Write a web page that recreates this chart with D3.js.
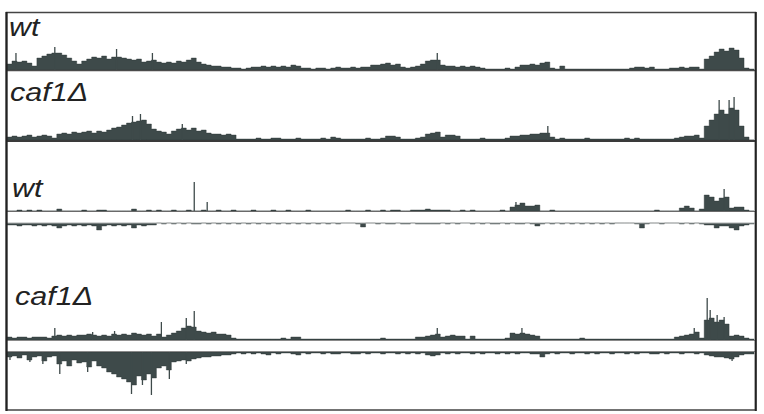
<!DOCTYPE html>
<html><head><meta charset="utf-8">
<script src="https://cdn.jsdelivr.net/npm/d3@7"></script>
<style>body{margin:0;background:#fff}svg{display:block}</style>
</head><body><svg id="c" width="764" height="414"></svg>
<script>
// genomic coordinate (kb), bins of 10 kb over 0..1500
const binSize = 10;
const regionEnd = 1500;
const labels = ["wt", "caf1\u0394", "wt", "caf1\u0394"];

const wtTop = [6,9,8,9,7,4,12,14,16,17, 17,15,12,9,6,9,11,13,12,14, 11,13,13,12,11,10,11,8,9,10,
  8,7,8,7,9,8,10,12,8,6, 5,4,4,3,3,2,2,1,2,3, 3,4,3,4,3,4,3,5,4,2, 2,1,2,2,1,2,3,2,2,3,
  2,3,3,5,5,6,7,5,6,3, 2,3,4,6,9,10,10,5,4,4, 3,4,3,4,3,2,1,1,1,1, 2,1,3,5,5,6,5,7,8,2,
  1,4,1,1,1,1,1,1,1,1, 1,1,1,1,1,2,3,3,2,3, 1,1,1,2,2,3,2,3,3,1, 11,14,18,21,19,22,20,12,2,1];
const wtTopSpikes = [[18,17],[96,23],[220,21],[292,17],[864,17]];

const caf1Top = [3,4,3,4,5,3,4,5,4,2, 6,7,6,8,7,8,9,7,9,8, 10,12,13,15,17,18,19,20,16,11,
  9,8,6,9,11,12,10,12,9,10, 7,6,6,5,6,5,1,1,1,1, 2,1,1,2,2,1,1,1,2,1, 1,1,1,2,1,3,2,1,1,1,
  1,1,2,1,1,2,4,4,3,1, 1,1,2,3,6,7,8,3,5,5, 4,1,1,1,1,2,1,1,1,1, 2,4,4,5,5,6,6,7,7,3,
  1,2,1,1,1,1,2,1,1,1, 1,1,1,1,2,1,2,1,1,1, 1,1,1,1,2,3,4,4,5,2, 14,20,26,30,26,32,30,14,3,0];
const caf1TopSpikes = [[252,24],[268,26],[352,16],[1086,14],[1430,40],[1450,40],[1460,43]];

const wtFwd = [0,0,1,0,1,0,1,0,0,0, 2,0,0,0,0,1,0,0,1,1, 0,0,0,0,0,2,0,0,1,0,
  1,0,0,1,0,0,1,0,0,1, 0,0,1,0,0,1,0,0,0,1, 0,0,0,1,0,0,1,0,0,0, 1,0,0,0,0,0,0,0,1,0,
  0,0,1,0,0,1,0,1,1,0, 0,1,1,1,2,1,1,1,1,0, 0,1,0,1,0,0,0,0,0,1, 0,4,6,8,5,5,6,0,0,1,
  0,0,0,0,0,0,0,0,0,0, 0,0,0,0,0,0,0,0,0,0, 1,0,0,0,0,3,5,3,0,2, 16,14,10,13,14,3,4,4,1,0];
const wtFwdSpikes = [[376,29],[402,9],[1022,9],[1440,22]];

const wtRev = [2,2,3,2,2,3,2,3,2,3, 5,3,2,3,2,3,2,3,7,3, 2,3,2,3,2,5,2,3,2,2,
  0,1,0,1,0,1,0,1,1,0, 1,0,1,0,1,0,1,0,1,0, 1,0,1,0,1,0,1,0,1,0, 1,0,1,0,1,0,1,0,0,0,
  1,4,0,0,1,0,1,1,0,1, 1,0,1,1,1,1,1,0,1,0, 1,0,0,1,0,1,0,1,1,0, 1,0,1,1,0,1,3,1,0,1,
  0,1,0,1,0,1,0,1,0,1, 0,1,0,0,0,0,1,5,1,0, 0,1,0,0,0,1,0,1,0,1, 2,2,5,3,3,5,7,3,2,1];
const wtRevSpikes = [[106,5],[186,7],[252,5],[712,4]];

const caf1Fwd = [3,2,3,3,2,3,3,3,2,4, 5,4,5,4,5,5,6,5,4,5, 4,6,5,6,5,7,6,5,6,4,
  6,3,5,7,9,12,14,13,9,8, 7,8,6,6,5,2,1,1,1,1, 1,1,1,1,1,2,1,3,3,1, 1,1,1,1,1,1,1,1,1,1,
  1,1,1,1,1,2,1,1,1,1, 1,1,3,3,4,5,6,3,4,5, 4,4,1,4,1,1,1,1,1,1, 2,7,6,7,6,5,4,1,1,1,
  1,1,1,1,1,2,1,1,1,1, 1,1,1,1,1,1,1,1,1,1, 1,1,1,1,3,4,5,6,8,2, 20,22,18,20,16,4,5,4,2,1];
const caf1FwdSpikes = [[96,12],[172,8],[216,9],[310,18],[360,22],[376,29],[864,12],[1034,12],
  [1380,12],[1406,42],[1412,30],[1426,25],[1440,23]];

const caf1Rev = [5,4,6,3,8,5,4,9,5,4, 12,9,14,8,11,10,15,9,14,16, 20,22,25,27,30,33,24,28,22,26,
  16,14,18,10,9,8,9,7,6,5, 5,4,4,3,3,2,1,2,1,2, 1,2,3,1,2,1,1,2,3,1, 2,1,1,2,1,2,2,1,1,2,
  2,1,2,1,1,2,1,1,2,1, 2,1,2,1,3,4,3,1,2,1, 2,1,1,2,1,2,1,1,2,1, 2,1,2,1,1,2,2,5,2,1,
  2,1,1,2,1,1,2,1,2,1, 1,2,1,1,2,1,2,1,1,2, 2,1,2,1,1,2,1,1,2,1, 3,4,5,5,6,7,5,3,2,2];
const caf1RevSpikes = [[6,8],[46,10],[72,12],[106,22],[162,20],[250,42],[272,33],[290,43],
  [326,27],[360,12],[1456,9]];

const fillCol = "#3e4a4a";
const svg = d3.select("#c");
const x = d3.scaleLinear().domain([0, regionEnd]).range([7, 754]);

function track(values, spikes, base, dir) {
  const y = d3.scaleLinear().domain([0, 50]).range([base, base - dir * 50]);
  const pts = values.map((v, i) => ({p: i * binSize, v}));
  pts.push({p: regionEnd, v: values[values.length - 1]});
  const area = d3.area().x(d => x(d.p)).y0(y(0)).y1(d => y(d.v)).curve(d3.curveStepAfter);
  svg.append("path").attr("d", area(pts)).attr("fill", fillCol)
    .attr("stroke", "#2b3434").attr("stroke-width", 0.4);
  svg.append("g").selectAll("line").data(spikes).join("line")
    .attr("x1", d => x(d[0])).attr("x2", d => x(d[0]))
    .attr("y1", y(0)).attr("y2", d => y(d[1]))
    .attr("stroke", fillCol).attr("stroke-width", 1.3);
}

track(wtTop, wtTopSpikes, 70, 1);
track(caf1Top, caf1TopSpikes, 140, 1);
track(wtFwd, wtFwdSpikes, 211, 1);
track(wtRev, wtRevSpikes, 223, -1);
track(caf1Fwd, caf1FwdSpikes, 340, 1);
track(caf1Rev, caf1RevSpikes, 352, -1);

// baselines / dividers
const hl = (yy, col, w) => svg.append("line").attr("x1", 7).attr("x2", 755)
  .attr("y1", yy).attr("y2", yy).attr("stroke", col).attr("stroke-width", w);
hl(70.5, "#4a4a4a", 1.5);
hl(141, "#3a3a3a", 2);
hl(211.5, "#6a6a6a", 1);
hl(223, "#d8d8d8", 0.8);
hl(340.5, "#8a8a8a", 1);
hl(351.5, "#8a8a8a", 1);

// frame
svg.append("rect").attr("x", 6.5).attr("y", 12.5).attr("width", 749).attr("height", 397.5)
  .attr("fill", "none").attr("stroke", "#444").attr("stroke-width", 1.5);
svg.append("line").attr("x1", 6.5).attr("x2", 6.5).attr("y1", 12).attr("y2", 411)
  .attr("stroke", "#222").attr("stroke-width", 2.2);
svg.append("line").attr("x1", 755.8).attr("x2", 755.8).attr("y1", 12).attr("y2", 411)
  .attr("stroke", "#222").attr("stroke-width", 2);

const labelPos = [[9, 36], [10, 101], [12, 197], [15, 305]];
labels.forEach((t, i) => {
  svg.append("text").attr("transform", `translate(${labelPos[i][0]},${labelPos[i][1]}) scale(1.22,1)`)
    .attr("font-family", "Liberation Sans, Arial, sans-serif").attr("font-style", "italic")
    .attr("font-size", 25).attr("fill", "#222").text(t);
});
</script></body></html>
